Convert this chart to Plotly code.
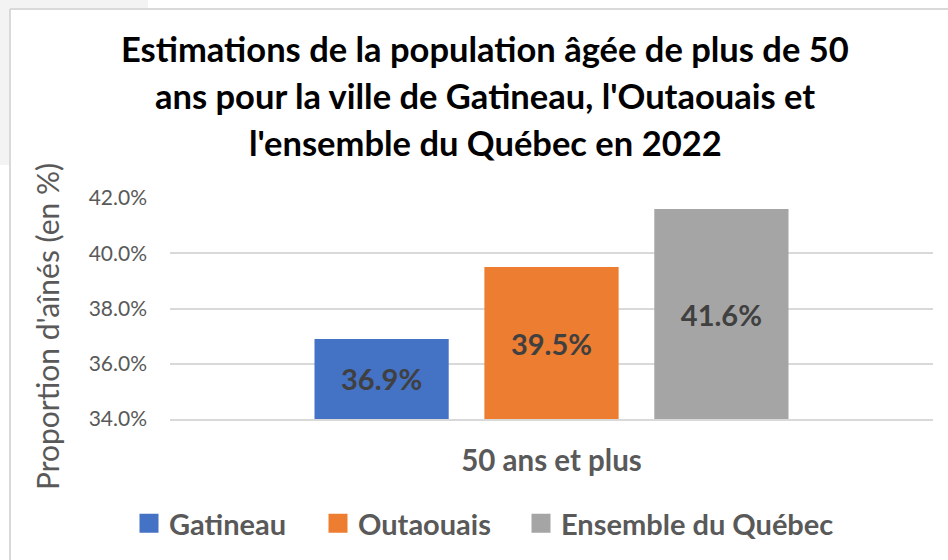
import plotly.graph_objects as go

# ---------------- data ----------------
categories = ["50 ans et plus"]
series_names = ["Gatineau", "Outaouais", "Ensemble du Québec"]
series_values = [[36.9], [39.5], [41.6]]
series_colors = ["#4472C4", "#ED7D31", "#A5A5A5"]
y_tick_values = [34, 36, 38, 40, 42]
y_tick_labels = ["34.0%", "36.0%", "38.0%", "40.0%", "42.0%"]
title_lines = [
    "Estimations de la population âgée de plus de 50",
    "ans pour la ville de Gatineau, l'Outaouais et",
    "l'ensemble du Québec en 2022",
]
y_title = "Proportion d'aînés (en %)"
Y_MIN, Y_MAX = 34, 42

# ---------------- layout geometry ----------------
W, H = 948, 560
ML, MR, MT, MB = 170, 15, 198, 141
PW = W - ML - MR
PH = H - MT - MB
PB = H - MB


def px2x(px):
    return (px - ML) / PW


def py2y(py):
    return (PB - py) / PH


FONT = "Lato"
GRAY_TXT = "#595959"

fig = go.Figure()

for name, vals, col in zip(series_names, series_values, series_colors):
    fig.add_trace(go.Bar(
        x=categories,
        y=[v - Y_MIN for v in vals],
        base=Y_MIN,
        customdata=vals,
        name=name,
        marker=dict(color=col, line=dict(width=0)),
        texttemplate="%{customdata:.1f}%",
        textposition="inside",
        insidetextanchor="middle",
        textangle=0,
        constraintext="none",
        textfont=dict(family=FONT, size=29, color="#404040", weight=700),
        hovertemplate=name + ": %{customdata:.1f}%<extra></extra>",
        showlegend=False,
    ))

# legend entries (one legend per series so each can be placed like the original)
legend_keys = ["legend", "legend2", "legend3"]
square_left_px = [142, 331, 534]
for name, col, key in zip(series_names, series_colors, legend_keys):
    fig.add_trace(go.Scatter(
        x=[None], y=[None], mode="markers", name=name,
        marker=dict(symbol="square", size=16, color=col, line=dict(color=col, width=3)),
        legend=key, showlegend=True, hoverinfo="skip",
    ))

legend_common = dict(
    orientation="h", xanchor="left", yanchor="middle",
    bgcolor="rgba(0,0,0,0)", borderwidth=0,
    font=dict(family=FONT, size=29, color=GRAY_TXT, weight=700),
)
legend_layouts = {}
for key, sx in zip(legend_keys, square_left_px):
    legend_layouts[key] = dict(legend_common, x=px2x(sx - 13), y=py2y(523.5))

annotations = []
for line, cy in zip(title_lines, [48.5, 95.5, 142.5]):
    annotations.append(dict(
        text=line, x=px2x(485), y=py2y(cy), xref="paper", yref="paper",
        xanchor="center", yanchor="middle", showarrow=False,
        font=dict(family=FONT, size=34.5, color="#000000", weight=700),
    ))
annotations.append(dict(
    text=y_title, x=px2x(47), y=py2y(327), xref="paper", yref="paper",
    xanchor="center", yanchor="middle", showarrow=False, textangle=-90,
    font=dict(family=FONT, size=30, color=GRAY_TXT),
))

shapes = [
    # light backdrop outside the chart frame (top-left)
    dict(type="rect", xref="paper", yref="paper", layer="below",
         x0=px2x(0), x1=px2x(148), y0=py2y(9), y1=py2y(0),
         fillcolor="#F3F3F3", line=dict(width=0)),
    dict(type="rect", xref="paper", yref="paper", layer="below",
         x0=px2x(0), x1=px2x(10), y0=py2y(165), y1=py2y(0),
         fillcolor="#F3F3F3", line=dict(width=0)),
    # chart frame
    dict(type="line", xref="paper", yref="paper",
         x0=px2x(10), x1=px2x(10), y0=py2y(9), y1=py2y(H + 5),
         line=dict(color="#D9D9D9", width=2)),
    dict(type="line", xref="paper", yref="paper",
         x0=px2x(10), x1=px2x(W + 5), y0=py2y(9), y1=py2y(9),
         line=dict(color="#D9D9D9", width=2)),
]

fig.update_layout(
    width=W, height=H,
    margin=dict(l=ML, r=MR, t=MT, b=MB, autoexpand=False),
    paper_bgcolor="#FFFFFF", plot_bgcolor="#FFFFFF",
    barmode="group", bargap=0.332, bargroupgap=0.21,
    annotations=annotations, shapes=shapes,
    **legend_layouts,
)

fig.update_xaxes(
    type="category", showgrid=False, zeroline=False,
    showline=True, linecolor="#D9D9D9", linewidth=1.5,
    ticks="", ticklabelstandoff=15,
    tickfont=dict(family=FONT, size=29.5, color=GRAY_TXT, weight=700),
    fixedrange=True,
)
fig.update_yaxes(
    range=[Y_MIN, Y_MAX], tickmode="array",
    tickvals=y_tick_values, ticktext=y_tick_labels,
    showgrid=True, gridcolor="#D9D9D9", gridwidth=1.5,
    zeroline=False, showline=False, ticks="",
    ticklabelstandoff=22,
    tickfont=dict(family=FONT, size=21, color=GRAY_TXT),
    fixedrange=True,
)

fig.write_html(
    "out.html",
    config={"displayModeBar": False},
    post_script="document.body.style.margin='0';document.body.style.padding='0';",
)
